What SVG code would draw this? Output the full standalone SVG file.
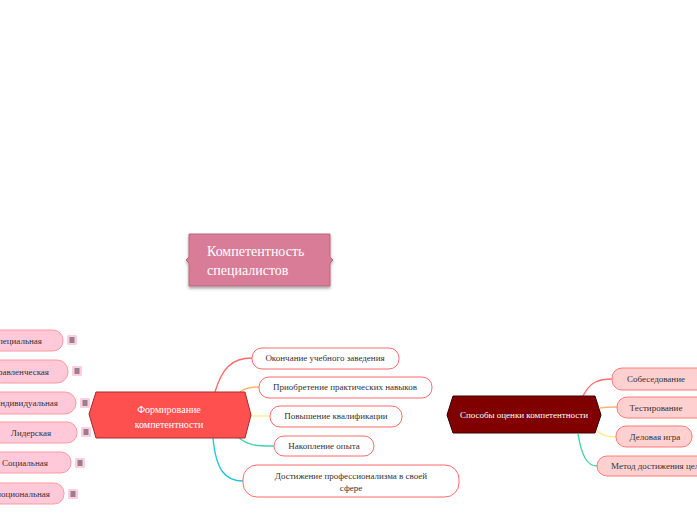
<svg xmlns="http://www.w3.org/2000/svg" width="697" height="520" viewBox="0 0 697 520">
<defs>
<filter id="sh" x="-10%" y="-20%" width="120%" height="150%"><feDropShadow dx="0" dy="2" stdDeviation="1.5" flood-color="#000" flood-opacity="0.35"/></filter>
<g id="menu"><rect x="0" y="0" width="10" height="10" rx="1.5" fill="#ffcce0"/><path d="M2.5,3H7.5M2.5,5H7.5M2.5,7H7.5" stroke="#333" stroke-width="1"/></g>
</defs>
<style>
text{font-family:"Liberation Serif","Times New Roman",serif;}
.t9{font-size:9px;fill:#333;}
.w{fill:#fff;}
.sub{fill:#fff;stroke:#ff6b6b;stroke-width:1;}
.pk{fill:#ffd0d0;stroke:#ff7a7a;stroke-width:1;}
.lp{fill:#ffc9da;stroke:#ff9a9a;stroke-width:1;}
.c{fill:none;stroke-width:1.4;}
</style>
<rect width="697" height="520" fill="#ffffff"/>

<g id="connectors">
<path class="c" stroke="#ff6b6b" d="M215,392 C222,368 232,358 252,358"/>
<path class="c" stroke="#ffb37a" d="M240,392 Q246,387 259,387"/>
<path class="c" stroke="#ffee88" d="M250,416 L270,416"/>
<path class="c" stroke="#44d4a0" d="M238,437 C248,446 258,446 274,446"/>
<path class="c" stroke="#22c8d8" d="M213,438 C216,470 225,481 243,481"/>
<path class="c" stroke="#ff6b6b" d="M583,396 C590,382 598,379 613,379"/>
<path class="c" stroke="#ffb37a" d="M600,408 Q606,407 617,407"/>
<path class="c" stroke="#ffee88" d="M596,430 Q603,437 616,437"/>
<path class="c" stroke="#44d4a0" d="M578,434 C582,458 588,466 597,466"/>
</g>

<g id="root">
<path d="M189,234 H330 V257 L333,260 L330,263 V286 H189 V263 L186,260 L189,257 Z" fill="#d87b97" stroke="#b9687f" stroke-width="1" filter="url(#sh)"/>
<text class="w" x="207" y="256" font-size="14">Компетентность</text>
<text class="w" x="207" y="275" font-size="14">специалистов</text>
</g>

<g id="formirovanie">
<path d="M96,392 H245 L251,415 L245,438 H96 L89,414 Z" fill="#ff5050" stroke="#a52a2a" stroke-width="1"/>
<text class="w" x="169" y="413" font-size="10" text-anchor="middle">Формирование</text>
<text class="w" x="169" y="428" font-size="10" text-anchor="middle">компетентности</text>
</g>

<g id="sposoby">
<path d="M453,396 H595 L601,415 L595,433 H453 L447,415 Z" fill="#800000" stroke="#3a0000" stroke-width="1"/>
<text class="w" x="524" y="418" font-size="9" text-anchor="middle">Способы оценки компетентности</text>
</g>

<g id="okonchanie">
<rect class="sub" x="252" y="348" width="147" height="21" rx="10"/>
<text class="t9" x="325" y="361" text-anchor="middle">Окончание учебного заведения</text>
</g>
<g id="priobretenie">
<rect class="sub" x="259" y="377" width="173" height="21" rx="10"/>
<text class="t9" x="345" y="390" text-anchor="middle">Приобретение практических навыков</text>
</g>
<g id="povyshenie">
<rect class="sub" x="270" y="406" width="132" height="21" rx="10"/>
<text class="t9" x="336" y="419" text-anchor="middle">Повышение квалификации</text>
</g>
<g id="nakoplenie">
<rect class="sub" x="274" y="436" width="100" height="20" rx="10"/>
<text class="t9" x="324" y="449" text-anchor="middle">Накопление опыта</text>
</g>
<g id="dostizhenie">
<rect class="sub" x="243" y="465" width="216" height="32" rx="14"/>
<text class="t9" x="351" y="479" text-anchor="middle">Достижение профессионализма в своей</text>
<text class="t9" x="351" y="491" text-anchor="middle">сфере</text>
</g>

<g id="sobesedovanie">
<rect class="pk" x="612" y="368" width="95" height="22" rx="10"/>
<text class="t9" x="656" y="382" text-anchor="middle">Собеседование</text>
</g>
<g id="testirovanie">
<rect class="pk" x="617" y="397" width="90" height="21" rx="10"/>
<text class="t9" x="656" y="411" text-anchor="middle">Тестирование</text>
</g>
<g id="delovaya">
<rect class="pk" x="616" y="426" width="76" height="21" rx="10"/>
<text class="t9" x="655" y="440" text-anchor="middle">Деловая игра</text>
</g>
<g id="metod">
<rect class="pk" x="597" y="456" width="130" height="20" rx="10"/>
<text class="t9" x="611" y="469">Метод достижения целей</text>
</g>

<g id="specialnaya">
<rect class="lp" x="-30" y="330" width="93" height="21" rx="10"/>
<text class="t9" x="42" y="344" text-anchor="end">Специальная</text>
<use href="#menu" x="67" y="335"/>
</g>
<g id="upravlencheskaya">
<rect class="lp" x="-30" y="360" width="98" height="23" rx="11"/>
<text class="t9" x="49" y="375" text-anchor="end">Управленческая</text>
<use href="#menu" x="72" y="366"/>
</g>
<g id="individualnaya">
<rect class="lp" x="-30" y="392" width="106" height="22" rx="11"/>
<text class="t9" x="58" y="406" text-anchor="end">Индивидуальная</text>
<use href="#menu" x="80" y="398"/>
</g>
<g id="liderskaya">
<rect class="lp" x="-15" y="422" width="92" height="21" rx="10"/>
<text class="t9" x="31" y="436" text-anchor="middle">Лидерская</text>
<use href="#menu" x="81" y="427"/>
</g>
<g id="socialnaya">
<rect class="lp" x="-21" y="452" width="92" height="21" rx="10"/>
<text class="t9" x="25" y="466" text-anchor="middle">Социальная</text>
<use href="#menu" x="75" y="458"/>
</g>
<g id="emocionalnaya">
<rect class="lp" x="-30" y="483" width="94" height="21" rx="10"/>
<text class="t9" x="50" y="497" text-anchor="end">Эмоциональная</text>
<use href="#menu" x="68" y="489"/>
</g>
</svg>
